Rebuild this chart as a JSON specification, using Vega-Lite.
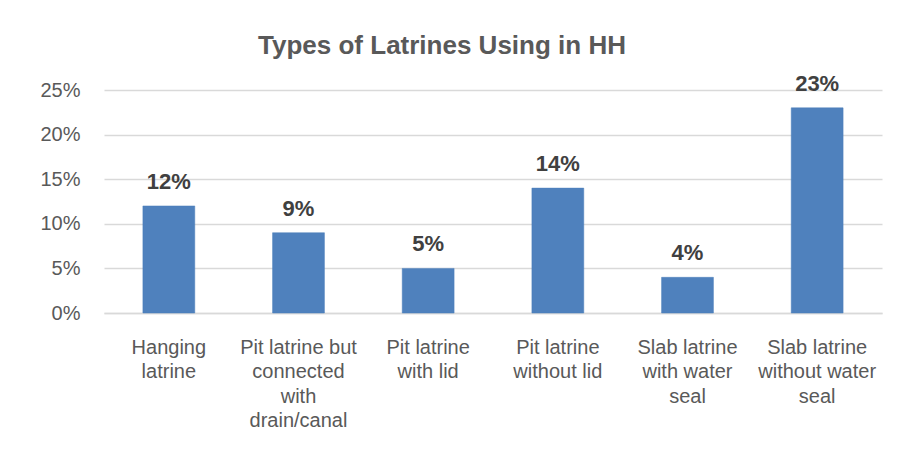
{
  "$schema": "https://vega.github.io/schema/vega-lite/v6.json",
  "autosize": "none",
  "width": 778,
  "height": 223,
  "padding": {"left": 104, "top": 90, "right": 18, "bottom": 146},
  "background": "white",
  "title": {
    "text": "Types of Latrines Using in HH",
    "font": "Liberation Sans",
    "fontSize": 26,
    "fontWeight": "bold",
    "color": "#595959",
    "anchor": "middle",
    "frame": "group",
    "dx": -51,
    "offset": 14
  },
  "data": {
    "values": [
      {"category": "Hanging latrine", "share": 0.12},
      {"category": "Pit latrine but connected with drain/canal", "share": 0.09},
      {"category": "Pit latrine with lid", "share": 0.05},
      {"category": "Pit latrine without lid", "share": 0.14},
      {"category": "Slab latrine with water seal", "share": 0.04},
      {"category": "Slab latrine without water seal", "share": 0.23}
    ]
  },
  "config": {
    "view": {"stroke": null},
    "font": "Liberation Sans"
  },
  "encoding": {
    "x": {
      "field": "category",
      "type": "nominal",
      "sort": null,
      "scale": {"paddingInner": 0.6, "paddingOuter": 0.3},
      "axis": {
        "title": null,
        "labelAngle": 0,
        "labelFont": "Liberation Sans",
        "labelFontSize": 20,
        "labelColor": "#595959",
        "labelBaseline": "top",
        "labelPadding": 24,
        "labelLineHeight": 24.5,
        "labelLimit": 200,
        "ticks": false,
        "domainColor": "#d9d9d9",
        "domainWidth": 1.5,
        "labelExpr": "({'Hanging latrine': ['Hanging', 'latrine'], 'Pit latrine but connected with drain/canal': ['Pit latrine but', 'connected', 'with', 'drain/canal'], 'Pit latrine with lid': ['Pit latrine', 'with lid'], 'Pit latrine without lid': ['Pit latrine', 'without lid'], 'Slab latrine with water seal': ['Slab latrine', 'with water', 'seal'], 'Slab latrine without water seal': ['Slab latrine', 'without water', 'seal']})[datum.value]"
      }
    },
    "y": {
      "field": "share",
      "type": "quantitative",
      "scale": {"domain": [0, 0.25], "nice": false},
      "axis": {
        "title": null,
        "format": ".0%",
        "values": [0, 0.05, 0.1, 0.15, 0.2, 0.25],
        "labelFont": "Liberation Sans",
        "labelFontSize": 20,
        "labelColor": "#595959",
        "labelPadding": 24,
        "ticks": false,
        "domain": false,
        "gridColor": "#d9d9d9",
        "gridWidth": 1.5
      }
    }
  },
  "layer": [
    {"mark": {"type": "bar", "color": "#4F81BD", "stroke": "#4A7EBB", "strokeWidth": 0.5}},
    {
      "mark": {
        "type": "text",
        "baseline": "bottom",
        "dy": -12,
        "font": "Liberation Sans",
        "fontSize": 22,
        "fontWeight": "bold",
        "color": "#404040"
      },
      "encoding": {
        "text": {"field": "share", "type": "quantitative", "format": ".0%"}
      }
    }
  ]
}
